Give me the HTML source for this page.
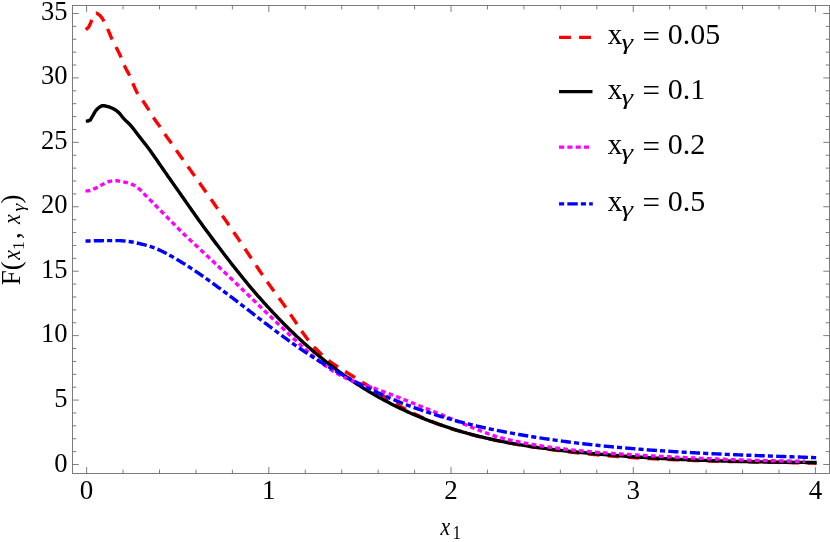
<!DOCTYPE html>
<html><head><meta charset="utf-8"><title>plot</title>
<style>
html,body{margin:0;padding:0;background:#fff;}
svg{display:block;will-change:transform;}
text{font-family:"Liberation Serif",serif;fill:#000;}
</style></head><body>
<svg width="830" height="542" viewBox="0 0 830 542">
<rect x="0" y="0" width="830" height="542" fill="#fff"/>
<g fill="none" stroke-width="3.40" stroke-linejoin="round">
<path d="M85.80 29.60 L87.30 28.46 L88.80 26.77 L90.30 23.84 L91.80 19.90 L93.30 16.20 L94.80 13.74 L96.30 13.20 L97.80 13.79 L99.30 14.91 L100.80 16.45 L102.30 18.34 L103.80 21.04 L105.30 23.94 L106.80 27.08 L108.30 30.39 L109.80 34.00 L111.30 37.66 L112.80 40.93 L114.30 43.78 L115.80 46.55 L117.30 49.48 L118.80 52.49 L120.30 55.64 L121.80 59.06 L123.30 62.89 L124.80 66.43 L126.30 69.35 L127.80 72.07 L129.30 74.99 L130.80 78.42 L132.30 82.10 L133.80 85.55 L135.30 88.94 L136.80 92.09 L138.30 94.70 L139.80 96.81 L141.30 98.72 L142.80 100.74 L144.30 102.95 L145.80 105.23 L147.30 107.56 L148.80 109.93 L150.30 112.39 L151.80 114.94 L153.30 117.39 L154.80 119.61 L156.30 121.67 L157.80 123.68 L159.30 125.73 L160.80 127.94 L162.30 130.27 L163.80 132.61 L165.30 134.82 L166.80 136.90 L168.30 138.90 L169.80 140.90 L171.30 142.96 L172.80 145.13 L174.30 147.37 L175.80 149.60 L177.30 151.75 L178.80 153.83 L180.30 155.88 L181.80 157.93 L183.30 160.02 L184.80 162.14 L186.30 164.28 L187.80 166.41 L189.30 168.52 L190.80 170.63 L192.30 172.73 L193.80 174.84 L195.30 176.95 L196.80 179.06 L198.30 181.18 L199.80 183.30 L201.30 185.43 L202.80 187.55 L204.30 189.67 L205.80 191.81 L207.30 193.95 L208.80 196.09 L210.30 198.24 L211.80 200.39 L213.30 202.54 L214.80 204.69 L216.30 206.85 L217.80 209.01 L219.30 211.17 L220.80 213.33 L222.30 215.50 L223.80 217.67 L225.30 219.85 L226.80 222.03 L228.30 224.21 L229.80 226.39 L231.30 228.59 L232.80 230.78 L234.30 232.98 L235.80 235.20 L237.30 237.42 L238.80 239.65 L240.30 241.87 L241.80 244.10 L243.30 246.33 L244.80 248.57 L246.30 250.82 L247.80 253.06 L249.30 255.31 L250.80 257.56 L252.30 259.80 L253.80 262.05 L255.30 264.28 L256.80 266.52 L258.30 268.74 L259.80 270.96 L261.30 273.16 L262.80 275.36 L264.30 277.54 L265.80 279.71 L267.30 281.86 L268.80 283.99 L270.30 286.11 L271.80 288.20 L273.30 290.29 L274.80 292.36 L276.30 294.39 L277.80 296.43 L279.30 298.48 L280.80 300.54 L282.30 302.60 L283.80 304.67 L285.30 306.78 L286.80 308.93 L288.30 311.13 L289.80 313.36 L291.30 315.60 L292.80 317.87 L294.30 320.15 L295.80 322.42 L297.30 324.67 L298.80 326.92 L300.30 329.14 L301.80 331.30 L303.30 333.42 L304.80 335.51 L306.30 337.55 L307.80 339.53 L309.30 341.44 L310.80 343.29 L312.30 345.05 L313.80 346.69 L315.30 348.27 L316.80 349.80 L318.30 351.28 L319.80 352.72 L321.30 354.12 L322.80 355.49 L324.30 356.81 L325.80 358.09 L327.30 359.34 L328.80 360.55 L330.30 361.74 L331.80 362.87 L333.30 363.94 L334.80 364.96 L336.30 365.95 L337.80 366.92 L339.30 367.86 L340.80 368.79 L342.30 369.71 L343.80 370.63 L345.30 371.54 L346.80 372.46 L348.30 373.40 L349.80 374.35 L351.30 375.29 L352.80 376.24 L354.30 377.18 L355.80 378.12 L357.30 379.07 L358.80 380.01 L360.30 380.96 L361.80 381.91 L363.30 382.86 L364.80 383.81 L366.30 384.77 L367.80 385.74 L369.30 386.72 L370.80 387.70 L372.30 388.68 L373.80 389.67 L375.30 390.65 L376.80 391.63 L378.30 392.61 L379.80 393.59 L381.30 394.55 L382.80 395.51 L384.30 396.46 L385.80 397.42 L387.30 398.37 L388.80 399.31 L390.30 400.25 L391.80 401.18 L393.30 402.10 L394.80 403.00 L396.30 403.89 L397.80 404.78 L399.30 405.65 L400.80 406.52 L402.30 407.37 L403.80 408.21 L405.30 409.04 L406.80 409.85 L408.30 410.65 L409.80 411.43 L411.30 412.20 L412.80 412.95 L414.30 413.69 L415.80 414.42 L417.30 415.14 L418.80 415.84 L420.30 416.54 L421.80 417.22 L423.30 417.89 L424.80 418.55 L426.30 419.20 L427.80 419.84 L429.30 420.47 L430.80 421.08 L432.30 421.68 L433.80 422.27 L435.30 422.86 L436.80 423.44 L438.30 424.01 L439.80 424.58 L441.30 425.13 L442.80 425.68 L444.30 426.22 L445.80 426.75 L447.30 427.28 L448.80 427.79 L450.30 428.29 L451.80 428.79 L453.30 429.28 L454.80 429.76 L456.30 430.23 L457.80 430.70 L459.30 431.15 L460.80 431.60 L462.30 432.05 L463.80 432.49 L465.30 432.92 L466.80 433.34 L468.30 433.76 L469.80 434.17 L471.30 434.57 L472.80 434.97 L474.30 435.36 L475.80 435.74 L477.30 436.12 L478.80 436.49 L480.30 436.86 L481.80 437.22 L483.30 437.57 L484.80 437.93 L486.30 438.27 L487.80 438.61 L489.30 438.95 L490.80 439.28 L492.30 439.60 L493.80 439.92 L495.30 440.24 L496.80 440.55 L498.30 440.86 L499.80 441.16 L501.30 441.46 L502.80 441.75 L504.30 442.04 L505.80 442.33 L507.30 442.61 L508.80 442.89 L510.30 443.17 L511.80 443.44 L513.30 443.71 L514.80 443.98 L516.30 444.24 L517.80 444.50 L519.30 444.76 L520.80 445.02 L522.30 445.27 L523.80 445.52 L525.30 445.77 L526.80 446.01 L528.30 446.25 L529.80 446.49 L531.30 446.73 L532.80 446.97 L534.30 447.20 L535.80 447.43 L537.30 447.66 L538.80 447.88 L540.30 448.10 L541.80 448.31 L543.30 448.53 L544.80 448.74 L546.30 448.95 L547.80 449.16 L549.30 449.36 L550.80 449.57 L552.30 449.77 L553.80 449.97 L555.30 450.17 L556.80 450.37 L558.30 450.56 L559.80 450.76 L561.30 450.94 L562.80 451.13 L564.30 451.31 L565.80 451.49 L567.30 451.67 L568.80 451.85 L570.30 452.02 L571.80 452.20 L573.30 452.37 L574.80 452.53 L576.30 452.70 L577.80 452.87 L579.30 453.03 L580.80 453.19 L582.30 453.35 L583.80 453.50 L585.30 453.65 L586.80 453.81 L588.30 453.95 L589.80 454.10 L591.30 454.25 L592.80 454.39 L594.30 454.53 L595.80 454.67 L597.30 454.81 L598.80 454.95 L600.30 455.08 L601.80 455.22 L603.30 455.35 L604.80 455.48 L606.30 455.60 L607.80 455.73 L609.30 455.85 L610.80 455.97 L612.30 456.09 L613.80 456.21 L615.30 456.32 L616.80 456.44 L618.30 456.55 L619.80 456.66 L621.30 456.77 L622.80 456.88 L624.30 456.99 L625.80 457.09 L627.30 457.20 L628.80 457.30 L630.30 457.40 L631.80 457.50 L633.30 457.60 L634.80 457.69 L636.30 457.79 L637.80 457.88 L639.30 457.97 L640.80 458.06 L642.30 458.15 L643.80 458.24 L645.30 458.32 L646.80 458.41 L648.30 458.49 L649.80 458.57 L651.30 458.65 L652.80 458.73 L654.30 458.81 L655.80 458.89 L657.30 458.96 L658.80 459.04 L660.30 459.11 L661.80 459.18 L663.30 459.25 L664.80 459.32 L666.30 459.39 L667.80 459.46 L669.30 459.52 L670.80 459.59 L672.30 459.65 L673.80 459.71 L675.30 459.78 L676.80 459.84 L678.30 459.90 L679.80 459.96 L681.30 460.01 L682.80 460.07 L684.30 460.13 L685.80 460.18 L687.30 460.24 L688.80 460.29 L690.30 460.34 L691.80 460.39 L693.30 460.44 L694.80 460.49 L696.30 460.54 L697.80 460.59 L699.30 460.64 L700.80 460.68 L702.30 460.73 L703.80 460.77 L705.30 460.82 L706.80 460.86 L708.30 460.90 L709.80 460.95 L711.30 460.99 L712.80 461.03 L714.30 461.07 L715.80 461.11 L717.30 461.15 L718.80 461.19 L720.30 461.22 L721.80 461.26 L723.30 461.30 L724.80 461.33 L726.30 461.37 L727.80 461.40 L729.30 461.44 L730.80 461.47 L732.30 461.51 L733.80 461.54 L735.30 461.57 L736.80 461.61 L738.30 461.64 L739.80 461.67 L741.30 461.70 L742.80 461.74 L744.30 461.77 L745.80 461.80 L747.30 461.83 L748.80 461.86 L750.30 461.89 L751.80 461.92 L753.30 461.95 L754.80 461.98 L756.30 462.00 L757.80 462.03 L759.30 462.06 L760.80 462.09 L762.30 462.12 L763.80 462.15 L765.30 462.18 L766.80 462.21 L768.30 462.24 L769.80 462.27 L771.30 462.30 L772.80 462.32 L774.30 462.35 L775.80 462.38 L777.30 462.41 L778.80 462.44 L780.30 462.47 L781.80 462.50 L783.30 462.53 L784.80 462.55 L786.30 462.58 L787.80 462.61 L789.30 462.64 L790.80 462.67 L792.30 462.70 L793.80 462.73 L795.30 462.76 L796.80 462.79 L798.30 462.82 L799.80 462.85 L801.30 462.88 L802.80 462.92 L804.30 462.95 L805.80 462.98 L807.30 463.01 L808.80 463.05 L810.30 463.08 L811.80 463.12 L813.30 463.15 L814.80 463.19 L816.30 463.22 L816.60 463.23" stroke="#f00" stroke-dasharray="11.6 8.4"/>
<path d="M85.80 121.10 L87.30 121.02 L88.80 120.78 L90.30 120.06 L91.80 117.45 L93.30 114.82 L94.80 112.10 L96.30 110.05 L97.80 108.52 L99.30 107.27 L100.80 106.35 L102.30 105.65 L103.80 105.68 L105.30 105.98 L106.80 106.35 L108.30 106.74 L109.80 107.22 L111.30 107.79 L112.80 108.46 L114.30 109.28 L115.80 110.24 L117.30 111.34 L118.80 112.58 L120.30 114.25 L121.80 116.22 L123.30 118.09 L124.80 119.67 L126.30 121.12 L127.80 122.54 L129.30 123.99 L130.80 125.56 L132.30 127.33 L133.80 129.25 L135.30 131.27 L136.80 133.29 L138.30 135.24 L139.80 137.16 L141.30 139.06 L142.80 140.95 L144.30 142.86 L145.80 144.79 L147.30 146.76 L148.80 148.77 L150.30 150.82 L151.80 152.90 L153.30 155.01 L154.80 157.15 L156.30 159.32 L157.80 161.52 L159.30 163.72 L160.80 165.91 L162.30 168.08 L163.80 170.24 L165.30 172.39 L166.80 174.55 L168.30 176.69 L169.80 178.83 L171.30 180.97 L172.80 183.11 L174.30 185.25 L175.80 187.38 L177.30 189.51 L178.80 191.64 L180.30 193.78 L181.80 195.92 L183.30 198.06 L184.80 200.21 L186.30 202.36 L187.80 204.50 L189.30 206.65 L190.80 208.79 L192.30 210.93 L193.80 213.06 L195.30 215.19 L196.80 217.30 L198.30 219.41 L199.80 221.51 L201.30 223.59 L202.80 225.67 L204.30 227.73 L205.80 229.77 L207.30 231.80 L208.80 233.83 L210.30 235.85 L211.80 237.86 L213.30 239.87 L214.80 241.87 L216.30 243.86 L217.80 245.85 L219.30 247.83 L220.80 249.81 L222.30 251.78 L223.80 253.74 L225.30 255.69 L226.80 257.64 L228.30 259.57 L229.80 261.51 L231.30 263.43 L232.80 265.34 L234.30 267.25 L235.80 269.15 L237.30 271.04 L238.80 272.93 L240.30 274.80 L241.80 276.67 L243.30 278.52 L244.80 280.37 L246.30 282.20 L247.80 284.00 L249.30 285.79 L250.80 287.56 L252.30 289.31 L253.80 291.06 L255.30 292.81 L256.80 294.54 L258.30 296.26 L259.80 297.97 L261.30 299.66 L262.80 301.35 L264.30 303.02 L265.80 304.68 L267.30 306.33 L268.80 307.97 L270.30 309.60 L271.80 311.22 L273.30 312.82 L274.80 314.41 L276.30 315.99 L277.80 317.56 L279.30 319.12 L280.80 320.67 L282.30 322.20 L283.80 323.72 L285.30 325.22 L286.80 326.72 L288.30 328.20 L289.80 329.68 L291.30 331.14 L292.80 332.59 L294.30 334.03 L295.80 335.46 L297.30 336.88 L298.80 338.28 L300.30 339.67 L301.80 341.04 L303.30 342.41 L304.80 343.76 L306.30 345.11 L307.80 346.44 L309.30 347.76 L310.80 349.07 L312.30 350.37 L313.80 351.66 L315.30 352.93 L316.80 354.20 L318.30 355.45 L319.80 356.69 L321.30 357.91 L322.80 359.13 L324.30 360.34 L325.80 361.54 L327.30 362.72 L328.80 363.90 L330.30 365.07 L331.80 366.22 L333.30 367.36 L334.80 368.48 L336.30 369.60 L337.80 370.71 L339.30 371.81 L340.80 372.90 L342.30 373.98 L343.80 375.05 L345.30 376.11 L346.80 377.16 L348.30 378.20 L349.80 379.23 L351.30 380.24 L352.80 381.25 L354.30 382.25 L355.80 383.24 L357.30 384.22 L358.80 385.19 L360.30 386.15 L361.80 387.10 L363.30 388.04 L364.80 388.97 L366.30 389.89 L367.80 390.81 L369.30 391.71 L370.80 392.61 L372.30 393.49 L373.80 394.36 L375.30 395.22 L376.80 396.08 L378.30 396.92 L379.80 397.76 L381.30 398.59 L382.80 399.41 L384.30 400.23 L385.80 401.03 L387.30 401.83 L388.80 402.62 L390.30 403.40 L391.80 404.16 L393.30 404.93 L394.80 405.68 L396.30 406.42 L397.80 407.16 L399.30 407.89 L400.80 408.61 L402.30 409.32 L403.80 410.03 L405.30 410.72 L406.80 411.41 L408.30 412.09 L409.80 412.76 L411.30 413.43 L412.80 414.09 L414.30 414.74 L415.80 415.38 L417.30 416.01 L418.80 416.64 L420.30 417.26 L421.80 417.87 L423.30 418.48 L424.80 419.07 L426.30 419.67 L427.80 420.25 L429.30 420.83 L430.80 421.40 L432.30 421.96 L433.80 422.52 L435.30 423.06 L436.80 423.61 L438.30 424.14 L439.80 424.67 L441.30 425.20 L442.80 425.71 L444.30 426.22 L445.80 426.73 L447.30 427.22 L448.80 427.71 L450.30 428.20 L451.80 428.67 L453.30 429.15 L454.80 429.61 L456.30 430.07 L457.80 430.53 L459.30 430.97 L460.80 431.42 L462.30 431.85 L463.80 432.29 L465.30 432.71 L466.80 433.13 L468.30 433.54 L469.80 433.95 L471.30 434.35 L472.80 434.75 L474.30 435.14 L475.80 435.53 L477.30 435.91 L478.80 436.28 L480.30 436.65 L481.80 437.02 L483.30 437.38 L484.80 437.73 L486.30 438.09 L487.80 438.43 L489.30 438.77 L490.80 439.11 L492.30 439.44 L493.80 439.76 L495.30 440.08 L496.80 440.40 L498.30 440.71 L499.80 441.02 L501.30 441.33 L502.80 441.63 L504.30 441.92 L505.80 442.21 L507.30 442.50 L508.80 442.78 L510.30 443.06 L511.80 443.33 L513.30 443.60 L514.80 443.87 L516.30 444.13 L517.80 444.39 L519.30 444.64 L520.80 444.89 L522.30 445.14 L523.80 445.38 L525.30 445.62 L526.80 445.85 L528.30 446.09 L529.80 446.32 L531.30 446.54 L532.80 446.77 L534.30 446.99 L535.80 447.21 L537.30 447.42 L538.80 447.63 L540.30 447.83 L541.80 448.03 L543.30 448.23 L544.80 448.43 L546.30 448.62 L547.80 448.81 L549.30 449.00 L550.80 449.19 L552.30 449.37 L553.80 449.56 L555.30 449.74 L556.80 449.92 L558.30 450.09 L559.80 450.27 L561.30 450.44 L562.80 450.61 L564.30 450.78 L565.80 450.94 L567.30 451.10 L568.80 451.26 L570.30 451.42 L571.80 451.57 L573.30 451.73 L574.80 451.88 L576.30 452.03 L577.80 452.18 L579.30 452.32 L580.80 452.47 L582.30 452.61 L583.80 452.75 L585.30 452.89 L586.80 453.03 L588.30 453.17 L589.80 453.31 L591.30 453.44 L592.80 453.58 L594.30 453.71 L595.80 453.84 L597.30 453.97 L598.80 454.10 L600.30 454.23 L601.80 454.36 L603.30 454.48 L604.80 454.60 L606.30 454.73 L607.80 454.85 L609.30 454.97 L610.80 455.09 L612.30 455.20 L613.80 455.32 L615.30 455.43 L616.80 455.55 L618.30 455.66 L619.80 455.77 L621.30 455.88 L622.80 455.99 L624.30 456.10 L625.80 456.21 L627.30 456.32 L628.80 456.42 L630.30 456.53 L631.80 456.63 L633.30 456.73 L634.80 456.83 L636.30 456.93 L637.80 457.03 L639.30 457.13 L640.80 457.23 L642.30 457.32 L643.80 457.41 L645.30 457.51 L646.80 457.60 L648.30 457.69 L649.80 457.78 L651.30 457.87 L652.80 457.96 L654.30 458.05 L655.80 458.13 L657.30 458.22 L658.80 458.30 L660.30 458.38 L661.80 458.46 L663.30 458.54 L664.80 458.62 L666.30 458.70 L667.80 458.78 L669.30 458.86 L670.80 458.93 L672.30 459.01 L673.80 459.08 L675.30 459.15 L676.80 459.22 L678.30 459.30 L679.80 459.37 L681.30 459.44 L682.80 459.50 L684.30 459.57 L685.80 459.64 L687.30 459.70 L688.80 459.77 L690.30 459.83 L691.80 459.89 L693.30 459.95 L694.80 460.01 L696.30 460.07 L697.80 460.13 L699.30 460.19 L700.80 460.25 L702.30 460.31 L703.80 460.36 L705.30 460.42 L706.80 460.47 L708.30 460.52 L709.80 460.58 L711.30 460.63 L712.80 460.68 L714.30 460.72 L715.80 460.77 L717.30 460.82 L718.80 460.87 L720.30 460.91 L721.80 460.96 L723.30 461.01 L724.80 461.05 L726.30 461.09 L727.80 461.14 L729.30 461.18 L730.80 461.22 L732.30 461.26 L733.80 461.30 L735.30 461.34 L736.80 461.38 L738.30 461.41 L739.80 461.45 L741.30 461.49 L742.80 461.52 L744.30 461.56 L745.80 461.59 L747.30 461.62 L748.80 461.66 L750.30 461.69 L751.80 461.72 L753.30 461.75 L754.80 461.78 L756.30 461.81 L757.80 461.84 L759.30 461.87 L760.80 461.89 L762.30 461.92 L763.80 461.95 L765.30 461.97 L766.80 461.99 L768.30 462.01 L769.80 462.04 L771.30 462.06 L772.80 462.08 L774.30 462.10 L775.80 462.12 L777.30 462.14 L778.80 462.16 L780.30 462.18 L781.80 462.20 L783.30 462.22 L784.80 462.24 L786.30 462.25 L787.80 462.27 L789.30 462.29 L790.80 462.30 L792.30 462.32 L793.80 462.33 L795.30 462.35 L796.80 462.36 L798.30 462.37 L799.80 462.39 L801.30 462.40 L802.80 462.41 L804.30 462.42 L805.80 462.43 L807.30 462.44 L808.80 462.45 L810.30 462.46 L811.80 462.47 L813.30 462.48 L814.80 462.48 L816.30 462.49 L816.60 462.49" stroke="#000"/>
<path d="M85.50 190.90 L87.00 190.86 L88.50 190.75 L90.00 190.53 L91.50 190.03 L93.00 189.36 L94.50 188.62 L96.00 187.92 L97.50 187.15 L99.00 186.32 L100.50 185.48 L102.00 184.69 L103.50 183.97 L105.00 183.25 L106.50 182.54 L108.00 181.91 L109.50 181.41 L111.00 181.09 L112.50 180.83 L114.00 180.70 L115.50 180.73 L117.00 180.82 L118.50 180.93 L120.00 181.12 L121.50 181.39 L123.00 181.71 L124.50 182.08 L126.00 182.45 L127.50 182.85 L129.00 183.31 L130.50 183.82 L132.00 184.40 L133.50 185.06 L135.00 185.84 L136.50 186.83 L138.00 187.99 L139.50 189.25 L141.00 190.57 L142.50 192.04 L144.00 193.67 L145.50 195.31 L147.00 196.87 L148.50 198.37 L150.00 199.85 L151.50 201.33 L153.00 202.83 L154.50 204.36 L156.00 205.89 L157.50 207.43 L159.00 208.95 L160.50 210.48 L162.00 212.00 L163.50 213.52 L165.00 215.04 L166.50 216.56 L168.00 218.08 L169.50 219.60 L171.00 221.11 L172.50 222.64 L174.00 224.16 L175.50 225.69 L177.00 227.22 L178.50 228.74 L180.00 230.26 L181.50 231.76 L183.00 233.24 L184.50 234.70 L186.00 236.14 L187.50 237.57 L189.00 238.98 L190.50 240.38 L192.00 241.78 L193.50 243.17 L195.00 244.56 L196.50 245.95 L198.00 247.35 L199.50 248.75 L201.00 250.15 L202.50 251.54 L204.00 252.94 L205.50 254.33 L207.00 255.73 L208.50 257.13 L210.00 258.53 L211.50 259.94 L213.00 261.35 L214.50 262.76 L216.00 264.17 L217.50 265.59 L219.00 267.01 L220.50 268.43 L222.00 269.85 L223.50 271.28 L225.00 272.70 L226.50 274.13 L228.00 275.57 L229.50 277.00 L231.00 278.44 L232.50 279.87 L234.00 281.31 L235.50 282.75 L237.00 284.20 L238.50 285.64 L240.00 287.08 L241.50 288.53 L243.00 289.98 L244.50 291.42 L246.00 292.87 L247.50 294.32 L249.00 295.77 L250.50 297.22 L252.00 298.67 L253.50 300.12 L255.00 301.57 L256.50 303.01 L258.00 304.46 L259.50 305.91 L261.00 307.36 L262.50 308.81 L264.00 310.26 L265.50 311.71 L267.00 313.15 L268.50 314.60 L270.00 316.04 L271.50 317.48 L273.00 318.93 L274.50 320.37 L276.00 321.81 L277.50 323.24 L279.00 324.68 L280.50 326.11 L282.00 327.55 L283.50 328.98 L285.00 330.40 L286.50 331.83 L288.00 333.25 L289.50 334.68 L291.00 336.10 L292.50 337.51 L294.00 338.92 L295.50 340.32 L297.00 341.72 L298.50 343.12 L300.00 344.50 L301.50 345.88 L303.00 347.24 L304.50 348.59 L306.00 349.94 L307.50 351.27 L309.00 352.58 L310.50 353.88 L312.00 355.17 L313.50 356.45 L315.00 357.69 L316.50 358.91 L318.00 360.12 L319.50 361.32 L321.00 362.50 L322.50 363.66 L324.00 364.79 L325.50 365.89 L327.00 366.97 L328.50 368.03 L330.00 369.06 L331.50 370.06 L333.00 371.04 L334.50 371.98 L336.00 372.89 L337.50 373.77 L339.00 374.63 L340.50 375.45 L342.00 376.23 L343.50 376.97 L345.00 377.69 L346.50 378.37 L348.00 379.04 L349.50 379.67 L351.00 380.28 L352.50 380.87 L354.00 381.43 L355.50 381.98 L357.00 382.51 L358.50 383.03 L360.00 383.55 L361.50 384.06 L363.00 384.57 L364.50 385.08 L366.00 385.59 L367.50 386.09 L369.00 386.58 L370.50 387.08 L372.00 387.58 L373.50 388.09 L375.00 388.60 L376.50 389.11 L378.00 389.64 L379.50 390.16 L381.00 390.70 L382.50 391.24 L384.00 391.79 L385.50 392.35 L387.00 392.92 L388.50 393.49 L390.00 394.06 L391.50 394.64 L393.00 395.23 L394.50 395.82 L396.00 396.41 L397.50 397.01 L399.00 397.60 L400.50 398.20 L402.00 398.81 L403.50 399.41 L405.00 400.01 L406.50 400.61 L408.00 401.21 L409.50 401.82 L411.00 402.42 L412.50 403.02 L414.00 403.63 L415.50 404.23 L417.00 404.84 L418.50 405.44 L420.00 406.05 L421.50 406.65 L423.00 407.26 L424.50 407.87 L426.00 408.47 L427.50 409.08 L429.00 409.69 L430.50 410.30 L432.00 410.91 L433.50 411.52 L435.00 412.13 L436.50 412.74 L438.00 413.35 L439.50 413.96 L441.00 414.58 L442.50 415.19 L444.00 415.80 L445.50 416.42 L447.00 417.04 L448.50 417.65 L450.00 418.27 L451.50 418.89 L453.00 419.51 L454.50 420.13 L456.00 420.75 L457.50 421.37 L459.00 421.99 L460.50 422.62 L462.00 423.24 L463.50 423.86 L465.00 424.49 L466.50 425.11 L468.00 425.74 L469.50 426.37 L471.00 426.99 L472.50 427.61 L474.00 428.22 L475.50 428.83 L477.00 429.44 L478.50 430.04 L480.00 430.64 L481.50 431.22 L483.00 431.80 L484.50 432.37 L486.00 432.93 L487.50 433.48 L489.00 434.02 L490.50 434.54 L492.00 435.05 L493.50 435.55 L495.00 436.04 L496.50 436.51 L498.00 436.96 L499.50 437.40 L501.00 437.82 L502.50 438.23 L504.00 438.63 L505.50 439.01 L507.00 439.38 L508.50 439.74 L510.00 440.09 L511.50 440.43 L513.00 440.76 L514.50 441.08 L516.00 441.40 L517.50 441.71 L519.00 442.01 L520.50 442.30 L522.00 442.60 L523.50 442.88 L525.00 443.16 L526.50 443.44 L528.00 443.71 L529.50 443.98 L531.00 444.24 L532.50 444.50 L534.00 444.76 L535.50 445.01 L537.00 445.26 L538.50 445.50 L540.00 445.74 L541.50 445.97 L543.00 446.19 L544.50 446.41 L546.00 446.63 L547.50 446.85 L549.00 447.07 L550.50 447.28 L552.00 447.49 L553.50 447.70 L555.00 447.90 L556.50 448.10 L558.00 448.30 L559.50 448.50 L561.00 448.68 L562.50 448.87 L564.00 449.05 L565.50 449.23 L567.00 449.40 L568.50 449.57 L570.00 449.74 L571.50 449.90 L573.00 450.07 L574.50 450.23 L576.00 450.38 L577.50 450.54 L579.00 450.69 L580.50 450.84 L582.00 450.99 L583.50 451.13 L585.00 451.27 L586.50 451.41 L588.00 451.55 L589.50 451.68 L591.00 451.81 L592.50 451.94 L594.00 452.07 L595.50 452.20 L597.00 452.32 L598.50 452.44 L600.00 452.56 L601.50 452.68 L603.00 452.79 L604.50 452.91 L606.00 453.02 L607.50 453.13 L609.00 453.24 L610.50 453.35 L612.00 453.46 L613.50 453.56 L615.00 453.66 L616.50 453.77 L618.00 453.87 L619.50 453.97 L621.00 454.06 L622.50 454.16 L624.00 454.26 L625.50 454.35 L627.00 454.44 L628.50 454.54 L630.00 454.63 L631.50 454.72 L633.00 454.81 L634.50 454.90 L636.00 454.99 L637.50 455.08 L639.00 455.17 L640.50 455.25 L642.00 455.34 L643.50 455.43 L645.00 455.52 L646.50 455.60 L648.00 455.69 L649.50 455.77 L651.00 455.86 L652.50 455.94 L654.00 456.02 L655.50 456.10 L657.00 456.19 L658.50 456.27 L660.00 456.35 L661.50 456.43 L663.00 456.51 L664.50 456.59 L666.00 456.66 L667.50 456.74 L669.00 456.82 L670.50 456.90 L672.00 456.98 L673.50 457.05 L675.00 457.13 L676.50 457.20 L678.00 457.28 L679.50 457.35 L681.00 457.43 L682.50 457.50 L684.00 457.57 L685.50 457.64 L687.00 457.72 L688.50 457.79 L690.00 457.86 L691.50 457.93 L693.00 458.00 L694.50 458.06 L696.00 458.13 L697.50 458.20 L699.00 458.27 L700.50 458.33 L702.00 458.40 L703.50 458.47 L705.00 458.53 L706.50 458.59 L708.00 458.66 L709.50 458.72 L711.00 458.78 L712.50 458.84 L714.00 458.90 L715.50 458.96 L717.00 459.02 L718.50 459.08 L720.00 459.14 L721.50 459.20 L723.00 459.25 L724.50 459.31 L726.00 459.37 L727.50 459.42 L729.00 459.48 L730.50 459.53 L732.00 459.58 L733.50 459.64 L735.00 459.69 L736.50 459.74 L738.00 459.79 L739.50 459.84 L741.00 459.89 L742.50 459.93 L744.00 459.98 L745.50 460.03 L747.00 460.08 L748.50 460.12 L750.00 460.17 L751.50 460.21 L753.00 460.26 L754.50 460.30 L756.00 460.35 L757.50 460.39 L759.00 460.43 L760.50 460.47 L762.00 460.51 L763.50 460.54 L765.00 460.58 L766.50 460.61 L768.00 460.65 L769.50 460.68 L771.00 460.71 L772.50 460.75 L774.00 460.78 L775.50 460.81 L777.00 460.84 L778.50 460.87 L780.00 460.90 L781.50 460.93 L783.00 460.96 L784.50 460.99 L786.00 461.01 L787.50 461.04 L789.00 461.07 L790.50 461.09 L792.00 461.12 L793.50 461.14 L795.00 461.17 L796.50 461.19 L798.00 461.21 L799.50 461.23 L801.00 461.26 L802.50 461.28 L804.00 461.29 L804.80 461.30" stroke="#f0f" stroke-dasharray="4.8 3.2"/>
<path d="M85.50 241.10 L87.00 241.04 L88.50 240.98 L90.00 240.93 L91.50 240.88 L93.00 240.83 L94.50 240.79 L96.00 240.75 L97.50 240.72 L99.00 240.70 L100.50 240.69 L102.00 240.68 L103.50 240.66 L105.00 240.65 L106.50 240.64 L108.00 240.63 L109.50 240.62 L111.00 240.62 L112.50 240.61 L114.00 240.61 L115.50 240.60 L117.00 240.60 L118.50 240.60 L120.00 240.63 L121.50 240.70 L123.00 240.82 L124.50 240.98 L126.00 241.16 L127.50 241.35 L129.00 241.55 L130.50 241.75 L132.00 241.99 L133.50 242.26 L135.00 242.57 L136.50 242.90 L138.00 243.25 L139.50 243.61 L141.00 243.98 L142.50 244.35 L144.00 244.72 L145.50 245.11 L147.00 245.52 L148.50 245.94 L150.00 246.39 L151.50 246.87 L153.00 247.37 L154.50 247.92 L156.00 248.52 L157.50 249.17 L159.00 249.85 L160.50 250.57 L162.00 251.30 L163.50 252.05 L165.00 252.80 L166.50 253.57 L168.00 254.36 L169.50 255.17 L171.00 256.00 L172.50 256.85 L174.00 257.71 L175.50 258.58 L177.00 259.46 L178.50 260.35 L180.00 261.26 L181.50 262.18 L183.00 263.11 L184.50 264.06 L186.00 265.01 L187.50 265.97 L189.00 266.93 L190.50 267.90 L192.00 268.88 L193.50 269.86 L195.00 270.86 L196.50 271.87 L198.00 272.88 L199.50 273.91 L201.00 274.95 L202.50 275.99 L204.00 277.04 L205.50 278.10 L207.00 279.16 L208.50 280.23 L210.00 281.31 L211.50 282.39 L213.00 283.48 L214.50 284.57 L216.00 285.66 L217.50 286.76 L219.00 287.87 L220.50 288.97 L222.00 290.08 L223.50 291.20 L225.00 292.31 L226.50 293.43 L228.00 294.55 L229.50 295.67 L231.00 296.79 L232.50 297.93 L234.00 299.07 L235.50 300.22 L237.00 301.37 L238.50 302.53 L240.00 303.68 L241.50 304.83 L243.00 305.99 L244.50 307.15 L246.00 308.30 L247.50 309.46 L249.00 310.62 L250.50 311.78 L252.00 312.94 L253.50 314.09 L255.00 315.25 L256.50 316.41 L258.00 317.56 L259.50 318.72 L261.00 319.87 L262.50 321.02 L264.00 322.17 L265.50 323.32 L267.00 324.46 L268.50 325.60 L270.00 326.74 L271.50 327.87 L273.00 329.00 L274.50 330.13 L276.00 331.25 L277.50 332.37 L279.00 333.49 L280.50 334.60 L282.00 335.71 L283.50 336.81 L285.00 337.90 L286.50 338.99 L288.00 340.07 L289.50 341.15 L291.00 342.22 L292.50 343.28 L294.00 344.34 L295.50 345.39 L297.00 346.43 L298.50 347.47 L300.00 348.50 L301.50 349.52 L303.00 350.54 L304.50 351.54 L306.00 352.55 L307.50 353.54 L309.00 354.53 L310.50 355.51 L312.00 356.49 L313.50 357.45 L315.00 358.42 L316.50 359.37 L318.00 360.32 L319.50 361.26 L321.00 362.19 L322.50 363.12 L324.00 364.04 L325.50 364.95 L327.00 365.86 L328.50 366.76 L330.00 367.66 L331.50 368.54 L333.00 369.42 L334.50 370.30 L336.00 371.17 L337.50 372.03 L339.00 372.88 L340.50 373.73 L342.00 374.57 L343.50 375.41 L345.00 376.24 L346.50 377.06 L348.00 377.87 L349.50 378.68 L351.00 379.48 L352.50 380.28 L354.00 381.07 L355.50 381.85 L357.00 382.63 L358.50 383.40 L360.00 384.17 L361.50 384.92 L363.00 385.68 L364.50 386.42 L366.00 387.16 L367.50 387.89 L369.00 388.62 L370.50 389.34 L372.00 390.06 L373.50 390.76 L375.00 391.47 L376.50 392.16 L378.00 392.85 L379.50 393.53 L381.00 394.21 L382.50 394.88 L384.00 395.54 L385.50 396.20 L387.00 396.86 L388.50 397.50 L390.00 398.15 L391.50 398.78 L393.00 399.41 L394.50 400.03 L396.00 400.64 L397.50 401.25 L399.00 401.86 L400.50 402.46 L402.00 403.05 L403.50 403.64 L405.00 404.22 L406.50 404.79 L408.00 405.36 L409.50 405.92 L411.00 406.48 L412.50 407.03 L414.00 407.58 L415.50 408.12 L417.00 408.66 L418.50 409.19 L420.00 409.71 L421.50 410.23 L423.00 410.74 L424.50 411.25 L426.00 411.75 L427.50 412.25 L429.00 412.74 L430.50 413.23 L432.00 413.71 L433.50 414.19 L435.00 414.67 L436.50 415.13 L438.00 415.60 L439.50 416.05 L441.00 416.51 L442.50 416.96 L444.00 417.40 L445.50 417.84 L447.00 418.27 L448.50 418.70 L450.00 419.13 L451.50 419.55 L453.00 419.96 L454.50 420.38 L456.00 420.78 L457.50 421.19 L459.00 421.58 L460.50 421.98 L462.00 422.37 L463.50 422.76 L465.00 423.14 L466.50 423.52 L468.00 423.89 L469.50 424.26 L471.00 424.62 L472.50 424.99 L474.00 425.34 L475.50 425.70 L477.00 426.05 L478.50 426.40 L480.00 426.74 L481.50 427.08 L483.00 427.42 L484.50 427.75 L486.00 428.08 L487.50 428.40 L489.00 428.72 L490.50 429.04 L492.00 429.36 L493.50 429.67 L495.00 429.98 L496.50 430.28 L498.00 430.59 L499.50 430.89 L501.00 431.18 L502.50 431.47 L504.00 431.76 L505.50 432.05 L507.00 432.34 L508.50 432.62 L510.00 432.90 L511.50 433.17 L513.00 433.44 L514.50 433.71 L516.00 433.98 L517.50 434.25 L519.00 434.51 L520.50 434.77 L522.00 435.03 L523.50 435.28 L525.00 435.53 L526.50 435.78 L528.00 436.03 L529.50 436.28 L531.00 436.52 L532.50 436.76 L534.00 437.00 L535.50 437.24 L537.00 437.48 L538.50 437.71 L540.00 437.94 L541.50 438.16 L543.00 438.39 L544.50 438.61 L546.00 438.83 L547.50 439.05 L549.00 439.27 L550.50 439.49 L552.00 439.71 L553.50 439.92 L555.00 440.13 L556.50 440.34 L558.00 440.55 L559.50 440.76 L561.00 440.96 L562.50 441.16 L564.00 441.36 L565.50 441.56 L567.00 441.75 L568.50 441.94 L570.00 442.14 L571.50 442.33 L573.00 442.51 L574.50 442.70 L576.00 442.89 L577.50 443.07 L579.00 443.25 L580.50 443.43 L582.00 443.61 L583.50 443.78 L585.00 443.96 L586.50 444.13 L588.00 444.30 L589.50 444.47 L591.00 444.63 L592.50 444.80 L594.00 444.96 L595.50 445.13 L597.00 445.29 L598.50 445.45 L600.00 445.60 L601.50 445.76 L603.00 445.91 L604.50 446.07 L606.00 446.22 L607.50 446.37 L609.00 446.52 L610.50 446.66 L612.00 446.81 L613.50 446.95 L615.00 447.09 L616.50 447.23 L618.00 447.37 L619.50 447.50 L621.00 447.64 L622.50 447.78 L624.00 447.91 L625.50 448.04 L627.00 448.17 L628.50 448.30 L630.00 448.43 L631.50 448.56 L633.00 448.68 L634.50 448.81 L636.00 448.93 L637.50 449.05 L639.00 449.17 L640.50 449.29 L642.00 449.41 L643.50 449.52 L645.00 449.64 L646.50 449.75 L648.00 449.86 L649.50 449.98 L651.00 450.09 L652.50 450.19 L654.00 450.30 L655.50 450.41 L657.00 450.51 L658.50 450.62 L660.00 450.72 L661.50 450.82 L663.00 450.92 L664.50 451.02 L666.00 451.12 L667.50 451.22 L669.00 451.32 L670.50 451.41 L672.00 451.51 L673.50 451.60 L675.00 451.69 L676.50 451.78 L678.00 451.87 L679.50 451.96 L681.00 452.05 L682.50 452.14 L684.00 452.23 L685.50 452.31 L687.00 452.40 L688.50 452.48 L690.00 452.56 L691.50 452.65 L693.00 452.73 L694.50 452.81 L696.00 452.89 L697.50 452.97 L699.00 453.05 L700.50 453.12 L702.00 453.20 L703.50 453.28 L705.00 453.35 L706.50 453.43 L708.00 453.50 L709.50 453.57 L711.00 453.64 L712.50 453.72 L714.00 453.79 L715.50 453.86 L717.00 453.92 L718.50 453.99 L720.00 454.06 L721.50 454.13 L723.00 454.20 L724.50 454.26 L726.00 454.33 L727.50 454.39 L729.00 454.46 L730.50 454.52 L732.00 454.58 L733.50 454.65 L735.00 454.71 L736.50 454.77 L738.00 454.83 L739.50 454.89 L741.00 454.95 L742.50 455.01 L744.00 455.07 L745.50 455.13 L747.00 455.19 L748.50 455.25 L750.00 455.31 L751.50 455.36 L753.00 455.42 L754.50 455.48 L756.00 455.53 L757.50 455.59 L759.00 455.65 L760.50 455.70 L762.00 455.76 L763.50 455.81 L765.00 455.87 L766.50 455.92 L768.00 455.97 L769.50 456.03 L771.00 456.08 L772.50 456.14 L774.00 456.19 L775.50 456.24 L777.00 456.29 L778.50 456.35 L780.00 456.40 L781.50 456.45 L783.00 456.50 L784.50 456.55 L786.00 456.60 L787.50 456.66 L789.00 456.71 L790.50 456.76 L792.00 456.81 L793.50 456.86 L795.00 456.91 L796.50 456.96 L798.00 457.02 L799.50 457.07 L801.00 457.12 L802.50 457.17 L804.00 457.22 L805.50 457.27 L807.00 457.33 L808.50 457.38 L810.00 457.43 L811.50 457.48 L813.00 457.53 L814.50 457.58 L816.00 457.64 L816.40 457.65" stroke="#00f" stroke-dasharray="5.1 3.2 10.2 3.1"/>
</g>
<path d="M86.62 473.50V467.10M86.62 5.50V11.90M123.06 473.50V469.60M123.06 5.50V9.40M159.50 473.50V469.60M159.50 5.50V9.40M195.95 473.50V469.60M195.95 5.50V9.40M232.39 473.50V469.60M232.39 5.50V9.40M268.83 473.50V467.10M268.83 5.50V11.90M305.27 473.50V469.60M305.27 5.50V9.40M341.71 473.50V469.60M341.71 5.50V9.40M378.16 473.50V469.60M378.16 5.50V9.40M414.60 473.50V469.60M414.60 5.50V9.40M451.04 473.50V467.10M451.04 5.50V11.90M487.48 473.50V469.60M487.48 5.50V9.40M523.92 473.50V469.60M523.92 5.50V9.40M560.37 473.50V469.60M560.37 5.50V9.40M596.81 473.50V469.60M596.81 5.50V9.40M633.25 473.50V467.10M633.25 5.50V11.90M669.69 473.50V469.60M669.69 5.50V9.40M706.13 473.50V469.60M706.13 5.50V9.40M742.58 473.50V469.60M742.58 5.50V9.40M779.02 473.50V469.60M779.02 5.50V9.40M815.46 473.50V467.10M815.46 5.50V11.90M72.50 464.50H78.70M829.50 464.50H823.30M72.50 451.61H76.30M829.50 451.61H825.70M72.50 438.73H76.30M829.50 438.73H825.70M72.50 425.84H76.30M829.50 425.84H825.70M72.50 412.96H76.30M829.50 412.96H825.70M72.50 400.07H78.70M829.50 400.07H823.30M72.50 387.18H76.30M829.50 387.18H825.70M72.50 374.30H76.30M829.50 374.30H825.70M72.50 361.41H76.30M829.50 361.41H825.70M72.50 348.53H76.30M829.50 348.53H825.70M72.50 335.64H78.70M829.50 335.64H823.30M72.50 322.75H76.30M829.50 322.75H825.70M72.50 309.87H76.30M829.50 309.87H825.70M72.50 296.98H76.30M829.50 296.98H825.70M72.50 284.10H76.30M829.50 284.10H825.70M72.50 271.21H78.70M829.50 271.21H823.30M72.50 258.32H76.30M829.50 258.32H825.70M72.50 245.44H76.30M829.50 245.44H825.70M72.50 232.55H76.30M829.50 232.55H825.70M72.50 219.67H76.30M829.50 219.67H825.70M72.50 206.78H78.70M829.50 206.78H823.30M72.50 193.89H76.30M829.50 193.89H825.70M72.50 181.01H76.30M829.50 181.01H825.70M72.50 168.12H76.30M829.50 168.12H825.70M72.50 155.24H76.30M829.50 155.24H825.70M72.50 142.35H78.70M829.50 142.35H823.30M72.50 129.46H76.30M829.50 129.46H825.70M72.50 116.58H76.30M829.50 116.58H825.70M72.50 103.69H76.30M829.50 103.69H825.70M72.50 90.81H76.30M829.50 90.81H825.70M72.50 77.92H78.70M829.50 77.92H823.30M72.50 65.03H76.30M829.50 65.03H825.70M72.50 52.15H76.30M829.50 52.15H825.70M72.50 39.26H76.30M829.50 39.26H825.70M72.50 26.38H76.30M829.50 26.38H825.70M72.50 13.49H78.70M829.50 13.49H823.30" fill="none" stroke="#666" stroke-width="0.85"/>
<rect x="72.50" y="5.50" width="757.00" height="468.00" fill="none" stroke="#666" stroke-width="0.85"/>
<text transform="translate(67.5 471.60) scale(0.985 1)" font-size="27.0" text-anchor="end">0</text>
<text transform="translate(67.5 407.02) scale(0.985 1)" font-size="27.0" text-anchor="end">5</text>
<text transform="translate(67.5 342.44) scale(0.985 1)" font-size="27.0" text-anchor="end">10</text>
<text transform="translate(67.5 277.86) scale(0.985 1)" font-size="27.0" text-anchor="end">15</text>
<text transform="translate(67.5 213.28) scale(0.985 1)" font-size="27.0" text-anchor="end">20</text>
<text transform="translate(67.5 148.70) scale(0.985 1)" font-size="27.0" text-anchor="end">25</text>
<text transform="translate(67.5 84.12) scale(0.985 1)" font-size="27.0" text-anchor="end">30</text>
<text transform="translate(67.5 19.54) scale(0.985 1)" font-size="27.0" text-anchor="end">35</text>
<text x="86.62" y="498.8" font-size="27.0" text-anchor="middle">0</text>
<text x="268.83" y="498.8" font-size="27.0" text-anchor="middle">1</text>
<text x="451.04" y="498.8" font-size="27.0" text-anchor="middle">2</text>
<text x="633.25" y="498.8" font-size="27.0" text-anchor="middle">3</text>
<text x="815.46" y="498.8" font-size="27.0" text-anchor="middle">4</text>
<text transform="translate(440.56 535.0) scale(0.875 1)" font-size="25" font-style="italic">x</text>
<text transform="translate(452.6 539.2) scale(0.92 1)" font-size="18.5">1</text>
<g transform="translate(20.4 284.8) rotate(-90)"><text x="-0.4" y="0" font-size="27">F(</text><text transform="translate(24.96 0) scale(0.875 1)" font-size="25" font-style="italic">x</text><text x="34.9" y="3.6" font-size="17.5">1</text><text x="45.9" y="0" font-size="27">,</text><text transform="translate(60.8 0) scale(0.875 1)" font-size="25" font-style="italic">x</text><text transform="translate(73.4 3.5) scale(1.12 1)" font-size="17.5" font-style="italic">γ</text><text x="81.3" y="0" font-size="27">)</text></g>
<path d="M559.05 37.30H592.0" stroke="#f00" stroke-width="3.3" fill="none" stroke-dasharray="11.9 8.1"/>
<text x="607.7" y="44.0" font-size="29">x</text>
<text transform="translate(621.6 49.1) scale(1.4 1)" font-size="21" font-style="italic">γ</text>
<text x="642.5" y="46.6" font-size="31">=</text>
<text x="667.8" y="44.2" font-size="30">0.05</text>
<path d="M559.05 91.60H592.5" stroke="#000" stroke-width="3.3" fill="none"/>
<text x="607.7" y="98.7" font-size="29">x</text>
<text transform="translate(621.6 103.8) scale(1.4 1)" font-size="21" font-style="italic">γ</text>
<text x="642.5" y="101.3" font-size="31">=</text>
<text x="667.8" y="98.9" font-size="30">0.1</text>
<path d="M559.05 147.15H590.0" stroke="#f0f" stroke-width="3.3" fill="none" stroke-dasharray="5.1 3.2"/>
<text x="607.7" y="154.0" font-size="29">x</text>
<text transform="translate(621.6 159.1) scale(1.4 1)" font-size="21" font-style="italic">γ</text>
<text x="642.5" y="156.6" font-size="31">=</text>
<text x="667.8" y="154.2" font-size="30">0.2</text>
<path d="M559.05 203.90H592.8" stroke="#00f" stroke-width="3.3" fill="none" stroke-dasharray="5.1 3.2 10.4 3.1"/>
<text x="607.7" y="210.7" font-size="29">x</text>
<text transform="translate(621.6 215.8) scale(1.4 1)" font-size="21" font-style="italic">γ</text>
<text x="642.5" y="213.3" font-size="31">=</text>
<text x="667.8" y="210.9" font-size="30">0.5</text>
</svg></body></html>
